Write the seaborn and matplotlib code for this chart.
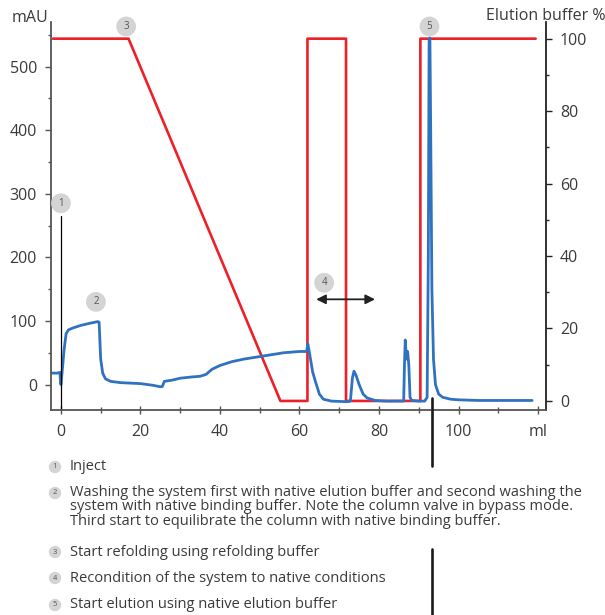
import numpy as np
import pandas as pd
import matplotlib.pyplot as plt
import matplotlib.transforms as mtransforms
from matplotlib.lines import Line2D
import seaborn as sns

# UV trace (mAU)
uv_ml = [-2.3, -1.0, -0.3, 0.0, 0.3, 0.8, 1.3, 1.9, 3.0, 5.0, 7.0, 9.3, 9.6,
         10.0, 10.5, 11.2, 12.5, 15.0, 20.0, 23.0, 25.0, 25.5, 26.0, 28.0,
         30.0, 33.0, 35.0, 36.5, 38.0, 40.0, 43.0, 46.0, 50.0, 53.0, 56.0,
         60.0, 61.8, 62.1, 62.5, 63.3, 64.0, 65.0, 66.0, 68.0, 72.0, 72.8,
         73.3, 73.7, 74.2, 75.0, 76.0, 77.0, 79.0, 82.0, 86.2, 86.4, 86.6,
         86.9, 87.2, 87.5, 87.8, 88.2, 90.0, 91.5, 92.1, 92.4, 92.6, 92.8,
         93.0, 93.3, 93.7, 94.2, 95.0, 96.0, 98.0, 100.0, 105.0, 110.0,
         115.0, 118.5]
uv_mau = [18, 18, 19, 0, 20, 55, 80, 86, 89, 93, 96, 99, 98,
          40, 18, 9, 5, 3, 1.5, -1, -3.5, -3, 5, 7,
          10, 12, 13, 16, 24, 30, 36, 40, 44, 47, 50,
          52, 52, 64, 50, 20, 5, -15, -23, -26, -27, -26,
          10, 21, 15, 0, -15, -21, -25, -26, -26, 30, 70,
          40, 52, 30, -20, -25, -26, -26, -20, 200, 540, 545,
          400, 150, 40, 0, -15, -20, -23, -24, -25, -25,
          -25, -25]

# Elution buffer gradient (%)
buf_ml = [-2, 17, 55.2, 62, 62, 71.7, 71.7, 90.4, 90.4, 119.4]
buf_pct = [100, 100, 0, 0, 100, 100, 0, 0, 100, 100]

# callouts: number, ml, mAU
mark_num = ["1", "2", "3", "4", "5"]
mark_ml = [0, 8.8, 16.4, 66.2, 92.7]
mark_mau = [285, 130, 563, 160, 563]

notes = [
    "Inject",
    "Washing the system first with native elution buffer and second washing the\n"
    "system with native binding buffer. Note the column valve in bypass mode.\n"
    "Third start to equilibrate the column with native binding buffer.",
    "Start refolding using refolding buffer",
    "Recondition of the system to native conditions",
    "Start elution using native elution buffer",
]
note_y = [467, 507, 552, 578, 605]

uv = pd.DataFrame({"ml": uv_ml, "mAU": uv_mau})
buf = pd.DataFrame({"ml": buf_ml, "pct": buf_pct})

sns.set_style("white")
plt.rcParams["font.family"] = ["Open Sans", "DejaVu Sans"]
txt = "#3a3a3a"

fig = plt.figure(figsize=(6.05, 6.15), dpi=100)
ax = fig.add_axes([51 / 605, 1 - 410 / 615, (546 - 51) / 605, (410 - 22) / 615])
ax2 = ax.twinx()

sns.lineplot(data=buf, x="ml", y="pct", ax=ax2, color="#ee2027", lw=1.9,
             sort=False, estimator=None)
sns.lineplot(data=uv, x="ml", y="mAU", ax=ax, color="#2f72c0", lw=2.0,
             sort=False, estimator=None)
ax.set_zorder(ax2.get_zorder() + 1)
ax.patch.set_visible(False)

ax.set_xlim(-2.5, 122)
ax.set_ylim(-40, 570)
ax2.set_ylim(-2.5, 104.6)

ax.set_xticks([0, 20, 40, 60, 80, 100, 120])
ax.set_xticklabels(["0", "20", "40", "60", "80", "100", "ml"])
ax.set_xticks(np.arange(10, 120, 20), minor=True)
ax.set_yticks([0, 100, 200, 300, 400, 500])
ax.set_yticks(np.arange(50, 560, 100), minor=True)
ax2.set_yticks([0, 20, 40, 60, 80, 100])
ax2.set_yticks(np.arange(10, 100, 20), minor=True)

ax.set_xlabel("")
ax.set_ylabel("")
ax2.set_ylabel("")

for a in (ax, ax2):
    a.spines["top"].set_visible(False)
    a.grid(False)
ax.spines["left"].set_color("#555555")
ax.spines["bottom"].set_color("#555555")
ax2.spines["right"].set_color("#222222")
for s in ("left", "bottom"):
    ax.spines[s].set_linewidth(1.3)
ax2.spines["right"].set_linewidth(1.3)
ax2.spines["left"].set_visible(False)
ax2.spines["bottom"].set_visible(False)
ax.spines["right"].set_visible(False)

ax.tick_params(axis="y", which="major", left=True, length=4, width=1,
               color="#555555", labelsize=11.5, labelcolor=txt, pad=6)
ax.tick_params(axis="y", which="minor", left=True, length=2, width=1, color="#555555")
ax.tick_params(axis="x", which="major", bottom=True, direction="inout", length=6,
               width=1, color="#555555", labelsize=11.5, labelcolor=txt, pad=7)
ax.tick_params(axis="x", which="minor", bottom=True, direction="inout", length=4,
               width=1, color="#555555")
ax2.tick_params(axis="y", which="major", right=True, length=4, width=1,
                color="#222222", labelsize=11.5, labelcolor=txt, pad=6)
ax2.tick_params(axis="y", which="minor", right=True, length=2, width=1, color="#222222")

fig.text(30 / 605, 1 - 18 / 615, "mAU", ha="center", va="center", fontsize=11.5, color=txt)
fig.text(1.0, 1 - 16 / 615, "Elution buffer %", ha="right", va="center",
         fontsize=11.5, color=txt)

# inject line
ax.plot([0, 0], [265, -40], color="black", lw=0.9, clip_on=False)

# recondition arrow
ax.annotate("", xy=(64.2, 134), xytext=(79, 134),
            arrowprops=dict(arrowstyle="<|-|>", color="#222222", lw=1.3,
                            mutation_scale=14, shrinkA=0, shrinkB=0))

for n, xm, ym in zip(mark_num, mark_ml, mark_mau):
    ax.text(xm, ym, n, ha="center", va="center", fontsize=7, color="#555555",
            bbox=dict(boxstyle="circle,pad=0.45", fc="#d4d4d4", ec="none"),
            zorder=5)

# notes below the chart
for i, (t, yp) in enumerate(zip(notes, note_y)):
    fig.text(55 / 605, 1 - (yp if i != 1 else 493) / 615, str(i + 1), ha="center",
             va="center", fontsize=5.5, color="#555555",
             bbox=dict(boxstyle="circle,pad=0.35", fc="#d4d4d4", ec="none"))
    fig.text(70 / 605, 1 - yp / 615, t, ha="left", va="center", fontsize=10.5,
             color=txt, linespacing=0.98)

# dark vertical rule crossing the page
trans = mtransforms.blended_transform_factory(ax.transData, fig.transFigure)
for y0, y1 in [(398, 466), (549, 615)]:
    fig.add_artist(Line2D([93.4, 93.4], [1 - y0 / 615, 1 - y1 / 615],
                          transform=trans, color="#1a1a1a", lw=1.9))

fig.savefig("out.png", dpi=100)
